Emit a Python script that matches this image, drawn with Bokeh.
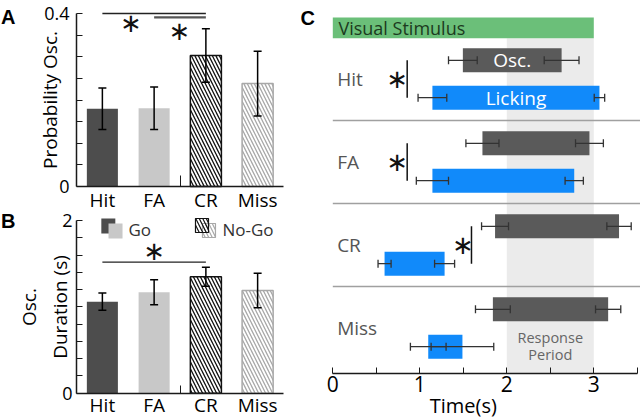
from bokeh.plotting import figure
from bokeh.layouts import row
from bokeh.models import (Range1d, FixedTicker, Whisker, TeeHead, ColumnDataSource,
                          NumeralTickFormatter, LinearAxis)
from bokeh.core.properties import value
from bokeh.embed import file_html
from bokeh.resources import INLINE

# ---------------- data ----------------
CONDITIONS = ["Hit", "FA", "CR", "Miss"]
GROUPS = ["Go", "No-Go"]

PROB_OSC = [0.180, 0.181, 0.303, 0.238]
PROB_OSC_ERR = [0.048, 0.049, 0.062, 0.075]

OSC_DURATION = [1.06, 1.17, 1.35, 1.19]
OSC_DURATION_ERR = [0.10, 0.145, 0.11, 0.20]

OSC_START = [1.495, 1.72, 1.865, 1.84]
OSC_START_ERR = [0.165, 0.19, 0.155, 0.20]
OSC_END = [2.63, 2.95, 3.29, 3.165]
OSC_END_ERR = [0.20, 0.16, 0.14, 0.145]
LICK_START = [1.145, 1.145, 0.595, 1.097]
LICK_START_ERR = [0.165, 0.185, 0.075, 0.205]
LICK_END = [3.065, 2.775, 1.285, 1.49]
LICK_END_ERR = [0.06, 0.105, 0.115, 0.36]

STIMULUS = (0.0, 3.0)
RESPONSE_PERIOD = (2.0, 3.0)

A_TICKS = [0, 0.4]
A_MINOR = [0.05, 0.1, 0.15, 0.2, 0.25, 0.3, 0.35]
B_TICKS = [0, 2]
B_MINOR = [0.2, 0.4, 0.6, 0.8, 1.0, 1.2, 1.4, 1.6, 1.8]
C_TICKS = [0, 1, 2, 3]
C_MINOR = [0.5, 1.5, 2.5, 3.5]

SIG_A = [("Hit", "CR"), ("FA", "CR")]
SIG_B = [("Hit", "CR")]
SIG_C = ["Hit", "FA", "CR"]

# ---------------- style ----------------
FONT = "Open Sans"
LETTER_FONT = "Liberation Sans"
DARK = "#4d4d4d"
LIGHT = "#c8c8c8"
NOGO_DARK = "#111111"
NOGO_LIGHT = "#a8a8a8"
OSC_COLOR = "#5a5a5a"
LICK_COLOR = "#118afa"
STIM_COLOR = "#6bbf79"
RESP_COLOR = "#ebebeb"
AXIS_COLOR = "#1a1a1a"

xs = [i + 1 for i in range(len(CONDITIONS))]
pos = dict(zip(CONDITIONS, xs))


def base_fig(w, h, xr, yr, **kw):
    p = figure(width=w, height=h, x_range=xr, y_range=yr, output_backend="svg",
               toolbar_location=None, min_border=0, **kw)
    p.outline_line_color = None
    p.xgrid.visible = False
    p.ygrid.visible = False
    p.background_fill_color = "white"
    p.border_fill_color = "white"
    return p


def style_axis(ax, label_size):
    ax.axis_line_color = AXIS_COLOR
    ax.axis_line_width = 1.5
    ax.major_tick_line_color = AXIS_COLOR
    ax.minor_tick_line_color = AXIS_COLOR
    ax.major_tick_line_width = 1
    ax.minor_tick_line_width = 1
    ax.major_label_text_font = FONT
    ax.major_label_text_font_size = label_size
    ax.major_label_text_color = "black"
    ax.axis_label_text_font = FONT
    ax.axis_label_text_font_style = "normal"
    ax.axis_label_text_color = "black"


def bar_panel(p, rn, xa, ya, vals, errs, yticks, yminor, ylabel, divider_len, xstand):
    style_axis(xa, "19px")
    xa.fixed_location = 0
    xa.bounds = (0.5, len(xs) + 0.5)
    xa.ticker = FixedTicker(ticks=xs, minor_ticks=[2.5])
    xa.major_label_overrides = {x: c for x, c in zip(xs, CONDITIONS)}
    xa.major_tick_in = 0
    xa.major_tick_out = 0
    xa.minor_tick_in = divider_len
    xa.minor_tick_out = 0
    xa.major_label_standoff = xstand

    style_axis(ya, "18px")
    ya.fixed_location = 0.5
    ya.ticker = FixedTicker(ticks=yticks, minor_ticks=yminor)
    ya.formatter = NumeralTickFormatter(format="0.[0]")
    ya.major_tick_in = 6
    ya.major_tick_out = 0
    ya.minor_tick_in = 6
    ya.minor_tick_out = 0
    ya.bounds = (yticks[0], yticks[-1])
    ya.axis_label = ylabel
    ya.axis_label_text_font_size = "19px"

    p.vbar(x=xs[:2], top=vals[:2], width=0.6, fill_color=[DARK, LIGHT], line_color=None,
           y_range_name=rn)
    for i, col in zip([2, 3], [NOGO_DARK, NOGO_LIGHT]):
        p.vbar(x=[xs[i]], top=[vals[i]], width=0.6, fill_color="white", line_color=col,
               line_width=1.5, hatch_pattern="\\", hatch_color=col, hatch_scale=7,
               hatch_weight=1.3, y_range_name=rn)
    src = ColumnDataSource(dict(x=xs, lo=[v - e for v, e in zip(vals, errs)],
                                hi=[v + e for v, e in zip(vals, errs)]))
    p.add_layout(Whisker(source=src, base="x", lower="lo", upper="hi", dimension="height",
                         line_color="black", line_width=1.5, level="overlay",
                         y_range_name=rn,
                         upper_head=TeeHead(size=8, line_color="black", line_width=1.5),
                         lower_head=TeeHead(size=8, line_color="black", line_width=1.5)))


def star(p, x, y, rn="default", size="26px"):
    p.text(x=[x], y=[y], text=["\u2217"], text_align="center", text_baseline="middle",
           text_font=value("DejaVu Sans"), text_font_size=size, text_color="#111111",
           y_range_name=rn)


def letter(p, x, y, t, rn="default"):
    p.text(x=[x], y=[y], text=[t], text_baseline="middle",
           text_font=value(LETTER_FONT), text_font_style="bold",
           text_font_size="20px", text_color="black", y_range_name=rn)


# ---------------- panels A and B (one canvas, two y scales) ----------------
pAB = base_fig(300, 419, Range1d(-0.9686, 4.8285), Range1d(-0.5387, 0.43006))
pAB.extra_y_ranges = {"B": Range1d(-0.3048, 4.5504)}
xaB = LinearAxis(y_range_name="B")
yaB = LinearAxis(y_range_name="B")
pAB.add_layout(xaB, "below")
pAB.add_layout(yaB, "left")

# A: probability of oscillation
bar_panel(pAB, "default", pAB.xaxis[0], pAB.yaxis[0], PROB_OSC, PROB_OSC_ERR, A_TICKS,
          A_MINOR, "Probability Osc.", 11, 0)
pAB.yaxis[0].major_label_standoff = 7
pAB.yaxis[0].axis_label_standoff = -22
sig_y_A = [0.400, 0.391]
sig_col_A = ["#222222", "#555555"]
sig_w_A = [1.3, 2.2]
for (a, b), yy, c, lw in zip(SIG_A, sig_y_A, sig_col_A, sig_w_A):
    pAB.segment(x0=[pos[a]], y0=[yy], x1=[pos[b]], y1=[yy], line_color=c, line_width=lw)
star(pAB, 1.55, 0.377)
star(pAB, 2.49, 0.359)
letter(pAB, -0.96, 0.393, "A")

# B: oscillation duration
bar_panel(pAB, "B", xaB, yaB, OSC_DURATION, OSC_DURATION_ERR, B_TICKS, B_MINOR,
          "Osc.\nDuration (s)", 8, -1)
yaB.major_label_standoff = 4
yaB.axis_label_standoff = -14
for a, b in SIG_B:
    pAB.segment(x0=[pos[a]], y0=[1.518], x1=[pos[b]], y1=[1.518], line_color="#222222",
                line_width=1.3, y_range_name="B")
star(pAB, 2.0, 1.65, "B")
pAB.rect(x=[1.115], y=[1.937], width=14, height=15, width_units="screen",
         height_units="screen", fill_color=DARK, line_color=None, y_range_name="B")
pAB.rect(x=[1.254], y=[1.879], width=14, height=15, width_units="screen",
         height_units="screen", fill_color=LIGHT, line_color=None, y_range_name="B")
pAB.rect(x=[3.06], y=[1.885], width=13, height=14, width_units="screen",
         height_units="screen", fill_color="white", line_color=NOGO_LIGHT, line_width=1.2,
         hatch_pattern="\\", hatch_color=NOGO_LIGHT, hatch_scale=7, hatch_weight=1.2,
         y_range_name="B")
pAB.rect(x=[2.925], y=[1.943], width=13, height=14, width_units="screen",
         height_units="screen", fill_color=None, line_color=NOGO_DARK, line_width=1.2,
         hatch_pattern="\\", hatch_color=NOGO_DARK, hatch_scale=7, hatch_weight=1.2,
         y_range_name="B")
pAB.text(x=[1.505, 3.32], y=[1.897, 1.897], text=GROUPS, text_baseline="middle",
         text_font=value(FONT), text_font_size="17px", text_color="#333333",
         y_range_name="B")
letter(pAB, -0.96, 2.0, "B", "B")

# ---------------- panel C ----------------
ROW_GAP = 1.0
BAR_OFF = 0.225
BAR_H = 0.29
n = len(CONDITIONS)
row_y = [(n - i - 0.5) * ROW_GAP for i in range(n)]
osc_y = [r + BAR_OFF for r in row_y]
lick_y = [r - BAR_OFF for r in row_y]
X0, X1 = -0.3713, 3.5368
Y0, Y1 = -0.6024, 4.4458
AXIS_Y = -0.045
STIM_BAND = (3.99, 4.24)

pC = base_fig(340, 419, Range1d(X0, X1), Range1d(Y0, Y1), y_axis_location=None)
xc = pC.xaxis[0]
style_axis(xc, "21px")
xc.fixed_location = AXIS_Y
xc.ticker = FixedTicker(ticks=C_TICKS, minor_ticks=C_MINOR)
xc.formatter = NumeralTickFormatter(format="0")
xc.bounds = (0, 3.5)
xc.major_tick_in = 6
xc.major_tick_out = 0
xc.minor_tick_in = 6
xc.minor_tick_out = 0
xc.major_label_standoff = 3

pC.text(x=[1.5], y=[-0.43], text=["Time(s)"], text_align="center",
        text_baseline="middle", text_font=value(FONT), text_font_size="20px",
        text_color="black")

pC.quad(left=[RESPONSE_PERIOD[0]], right=[RESPONSE_PERIOD[1]], bottom=[AXIS_Y],
        top=[STIM_BAND[0]], fill_color=RESP_COLOR, line_color=None)
pC.quad(left=[STIMULUS[0]], right=[STIMULUS[1]], bottom=[STIM_BAND[0]], top=[STIM_BAND[1]],
        fill_color=STIM_COLOR, line_color=None)
pC.text(x=[0.065], y=[sum(STIM_BAND) / 2], text=["Visual Stimulus"], text_baseline="middle",
        text_font=value(FONT), text_font_size="18px", text_color="#1c3a20")
seps = [(row_y[i] + row_y[i + 1]) / 2 for i in range(n - 1)]
pC.segment(x0=[0] * len(seps), x1=[X1] * len(seps), y0=seps, y1=seps,
           line_color="#a0a0a0", line_width=1.5)
pC.text(x=[2.5, 2.5], y=[0.386, 0.18], text=["Response", "Period"], text_align="center",
        text_baseline="middle", text_font=value(FONT), text_font_size="14.5px",
        text_color="#666666")

pC.hbar(y=osc_y, left=OSC_START, right=OSC_END, height=BAR_H, fill_color=OSC_COLOR,
        line_color=None)
pC.hbar(y=lick_y, left=LICK_START, right=LICK_END, height=BAR_H, fill_color=LICK_COLOR,
        line_color=None)

wy, wlo, whi = [], [], []
for ys, starts, serr, ends, eerr in [(osc_y, OSC_START, OSC_START_ERR, OSC_END, OSC_END_ERR),
                                      (lick_y, LICK_START, LICK_START_ERR, LICK_END, LICK_END_ERR)]:
    for y, s, se, e, ee in zip(ys, starts, serr, ends, eerr):
        wy += [y, y]
        wlo += [s - se, e - ee]
        whi += [s + se, e + ee]
wsrc = ColumnDataSource(dict(y=wy, lo=wlo, hi=whi))
pC.add_layout(Whisker(source=wsrc, base="y", lower="lo", upper="hi", dimension="width",
                      line_color="#333333", line_width=1.3, level="overlay",
                      upper_head=TeeHead(size=8, line_color="#333333", line_width=1.3),
                      lower_head=TeeHead(size=8, line_color="#333333", line_width=1.3)))

pC.text(x=[(OSC_START[0] + OSC_END[0]) / 2], y=[osc_y[0]], text=["Osc."], text_align="center",
        text_baseline="middle", text_font=value(FONT), text_font_size="19px",
        text_color="white")
pC.text(x=[(LICK_START[0] + LICK_END[0]) / 2], y=[lick_y[0]], text=["Licking"],
        text_align="center", text_baseline="middle", text_font=value(FONT),
        text_font_size="19px", text_color="white")
pC.text(x=[0.05] * n, y=row_y, text=CONDITIONS, text_baseline="middle",
        text_font=value(FONT), text_font_size="19px", text_color="#555555")

sig_line_x = [0.855, 0.855, 1.594]
sig_star_x = [0.74, 0.74, 1.494]
for c, lx, sx in zip(SIG_C, sig_line_x, sig_star_x):
    i = CONDITIONS.index(c)
    pC.segment(x0=[lx], x1=[lx], y0=[osc_y[i]], y1=[lick_y[i]], line_color="#111111",
               line_width=1.5)
    star(pC, sx, row_y[i])
letter(pC, -0.37, 4.229, "C")

layout = row(pAB, pC)
open("out.html", "w").write(file_html(layout, INLINE))
